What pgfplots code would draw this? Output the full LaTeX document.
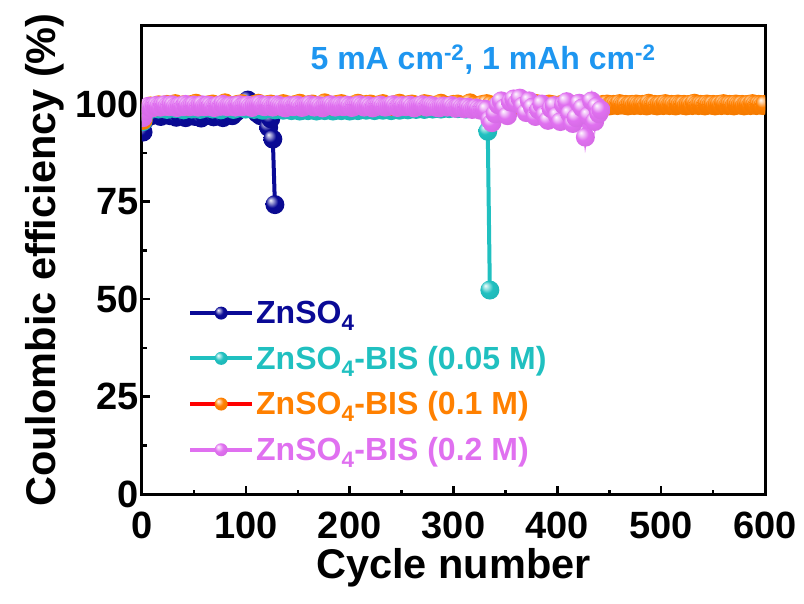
\documentclass[border=0pt]{standalone}
\usepackage{fontspec}
\setmainfont{Liberation Sans}
\usepackage{pgfplots}
\pgfplotsset{compat=1.18}
\definecolor{cNavy}{RGB}{10,10,150}
\definecolor{cCyan}{RGB}{32,192,192}
\definecolor{cOrange}{RGB}{255,128,0}
\definecolor{cViolet}{RGB}{224,112,240}
\definecolor{cAnno}{RGB}{30,150,240}
\makeatletter
\pgfdeclareradialshading[tikz@ball]{myball}{\pgfqpoint{-12bp}{12bp}}{%
 color(0bp)=(tikz@ball!5!white); color(7bp)=(tikz@ball!45!white); color(16bp)=(tikz@ball); color(40bp)=(tikz@ball!92!black); color(50bp)=(tikz@ball!85!black)}
\pgfdeclareplotmark{myball}{\pgfpathcircle{\pgfpointorigin}{\pgfplotmarksize}\pgfshadepath{myball}{0}\pgfusepath{}}
\tikzset{myballcolor/.code={\pgfutil@colorlet{tikz@ball}{#1}}}
\makeatother

\pgfplotstableread{
x y
1 92.8
3 96.0
6 97.3
9 97.0
12 97.8
15 97.4
18 96.8
21 97.2
24 97.6
27 97.0
30 97.3
33 96.6
36 97.5
39 97.1
42 96.5
45 97.2
48 97.6
51 96.8
54 97.0
57 96.4
60 97.3
63 97.7
66 97.0
69 96.7
72 97.4
75 97.0
78 96.5
81 97.2
84 97.5
87 97.0
90 97.8
93 98.4
96 99.0
99 100.0
102 101.0
105 99.8
108 98.5
111 97.6
114 97.0
117 96.8
120 97.3
122 94.0
124 96.2
126 91.0
128 74.2
}\dataA

\pgfplotstableread{
x y
1 95.5
4 97.8
8 98.8
12 99.1
16 98.7
20 99.0
24 98.6
28 99.2
32 98.8
36 99.0
40 98.5
44 99.1
48 98.7
52 99.0
56 98.6
60 98.9
64 99.2
68 98.7
72 99.0
76 98.5
80 98.9
84 99.1
88 98.6
92 98.9
96 99.2
100 98.7
104 99.0
108 98.6
112 98.9
116 98.4
120 98.8
124 99.0
128 98.5
132 98.8
136 98.4
140 98.7
144 98.3
148 98.6
152 98.2
156 98.5
160 98.3
164 98.6
168 98.2
172 98.5
176 98.3
180 98.6
184 98.2
188 98.5
192 98.3
196 98.6
200 98.2
204 98.5
208 98.3
212 98.6
216 98.4
220 98.7
224 98.3
228 98.6
232 98.4
236 98.7
240 98.3
244 98.6
248 98.4
252 98.8
256 98.5
260 98.8
264 98.6
268 98.9
272 98.6
276 98.9
280 98.7
284 99.0
288 98.7
292 99.0
296 98.8
300 99.1
304 98.8
308 99.0
312 98.7
316 99.1
320 98.8
324 99.0
328 98.7
331 98.4
333 93.0
335 52.3
}\dataB

\pgfplotstableread{
x y
1 95.8
4 98.6
8 99.5
12 99.2
16 99.8
20 99.4
24 99.9
28 99.6
32 100.1
36 99.5
40 99.8
44 99.3
48 99.9
52 100.2
56 99.6
60 99.4
64 99.8
68 100.0
72 99.5
76 99.7
80 100.3
84 99.6
88 99.4
92 99.9
96 100.1
100 99.7
104 99.5
108 99.9
112 100.2
116 99.6
120 99.8
124 100.0
128 99.4
132 99.7
136 100.1
140 99.8
144 99.5
148 99.9
152 100.2
156 99.6
160 99.8
164 100.0
168 99.5
172 99.7
176 100.3
180 99.8
184 99.4
188 99.9
192 100.1
196 99.7
200 99.5
204 99.8
208 100.2
212 99.6
216 99.9
220 100.0
224 99.5
228 99.8
232 100.1
236 99.7
240 99.4
244 99.9
248 100.2
252 99.6
256 99.8
260 100.0
264 99.7
268 99.5
272 100.1
276 99.9
280 99.6
284 99.8
288 100.2
292 99.7
296 99.5
300 99.9
304 100.0
308 99.6
312 99.8
316 100.3
320 99.7
324 99.5
328 99.9
332 100.1
336 99.8
340 99.6
344 100.0
348 99.7
352 99.9
356 100.2
360 99.6
364 99.8
368 100.0
372 99.5
376 99.9
380 100.1
384 99.7
388 99.6
392 100.0
396 99.8
400 99.5
404 99.9
408 100.2
412 99.7
416 99.8
420 100.0
424 99.6
428 99.9
432 100.1
436 99.7
440 99.5
444 99.9
446 99.7
448 100.0
450 99.5
452 99.6
454 99.9
456 99.8
458 99.6
460 100.1
462 99.8
464 99.7
466 99.9
468 99.5
470 99.8
472 99.9
474 99.6
476 100.0
478 99.8
480 99.6
482 99.9
484 99.8
486 99.5
488 100.2
490 99.8
492 99.7
494 99.9
496 99.5
498 99.8
500 99.9
502 99.6
504 100.1
506 99.8
508 99.6
510 99.9
512 99.8
514 99.5
516 100.0
518 99.8
520 99.7
522 99.9
524 99.5
526 99.8
528 99.9
530 99.6
532 100.2
534 99.8
536 99.6
538 99.9
540 99.8
542 99.5
544 100.0
546 99.8
548 99.7
550 99.9
552 99.5
554 99.8
556 99.9
558 99.6
560 100.1
562 99.8
564 99.6
566 99.9
568 99.8
570 99.5
572 100.0
574 99.8
576 99.7
578 99.9
580 99.5
582 99.8
584 99.9
586 99.6
588 100.1
590 99.8
592 99.6
594 99.9
596 99.8
598 99.6
600 99.9
}\dataC

\pgfplotstableread{
x y
1 96.5
3 98.2
6 99.4
8 99.1
10 99.0
12 99.5
14 99.6
16 99.3
18 99.2
20 99.7
22 99.8
24 99.4
26 99.3
28 99.8
30 99.7
32 99.2
34 99.1
36 99.5
38 99.6
40 99.3
42 99.9
44 99.6
46 99.3
48 99.5
50 99.7
52 99.4
54 99.2
56 99.6
58 99.8
60 99.3
62 99.4
64 99.7
66 99.6
68 99.2
70 99.1
72 99.5
74 99.7
76 99.4
78 99.9
80 99.6
82 99.3
84 99.5
86 99.6
88 99.4
90 99.2
92 99.7
94 99.8
96 99.3
98 99.4
100 99.6
102 99.7
104 99.3
106 99.1
108 99.5
110 99.6
112 99.8
114 99.9
116 99.5
118 99.3
120 99.6
122 99.7
124 99.4
126 99.2
128 99.5
130 99.8
132 99.6
134 99.4
136 99.2
138 99.0
140 99.4
142 99.6
144 99.5
146 99.3
148 99.6
150 99.7
152 99.4
154 99.1
156 99.3
158 99.5
160 99.7
162 99.8
164 99.4
166 99.2
168 99.5
170 99.6
172 99.3
174 99.0
176 99.3
178 99.5
180 99.7
182 99.8
184 99.5
186 99.2
188 99.4
190 99.6
192 99.5
194 99.3
196 99.5
198 99.7
200 99.4
202 99.1
204 99.3
206 99.5
208 99.7
210 99.8
212 99.5
214 99.2
216 99.4
218 99.6
220 99.3
222 99.0
224 99.2
226 99.4
228 99.6
230 99.7
232 99.4
234 99.2
236 99.3
238 99.5
240 99.7
242 99.8
244 99.4
246 99.1
248 99.3
250 99.6
252 99.5
254 99.3
256 99.5
258 99.7
260 99.3
262 99.0
264 99.2
266 99.5
268 99.7
270 99.8
272 99.5
274 99.2
276 99.4
278 99.6
280 99.5
282 99.3
284 99.1
286 99.0
288 99.2
290 99.5
292 99.4
294 99.2
296 99.4
298 99.6
300 99.2
302 98.9
304 99.1
306 99.3
308 99.0
310 98.8
312 99.0
314 99.2
316 98.9
318 98.6
320 98.8
322 99.0
324 98.7
326 98.4
328 98.6
330 98.7
332 98.5
335 96.0
337 95.2
340 97.5
343 99.8
346 100.8
349 99.0
352 97.0
355 100.5
358 101.3
361 100.2
364 101.5
367 99.5
370 97.8
373 100.8
376 99.2
379 96.8
382 98.5
385 100.0
388 97.2
391 95.8
394 98.8
397 99.6
400 97.0
403 95.5
406 99.8
409 100.6
412 97.5
415 95.0
418 96.5
421 100.2
424 99.0
427 91.5
430 97.0
433 100.8
436 95.5
438 99.4
440 97.5
442 98.5
}\dataD

\begin{document}
\begin{tikzpicture}
\begin{axis}[
  scale only axis, width=623pt, height=468pt,
  xmin=0, xmax=600, ymin=0, ymax=120,
  xtick={0,100,...,600}, ytick={0,25,50,75,100},
  minor x tick num=1, minor y tick num=1,
  tick align=inside, xtick pos=bottom, ytick pos=left,
  major tick length=8pt, minor tick length=4.5pt,
  axis line style={line width=3pt},
  every tick/.append style={line width=2.5pt, black},
  /pgf/number format/assume math mode=true,
  tick label style={font=\fontsize{38}{44}\selectfont\bfseries},
  xticklabel style={anchor=base, yshift=-44pt},
  xlabel={Cycle number},
  ylabel={Coulombic efficiency (\%)},
  label style={font=\fontsize{41.5}{48}\selectfont\bfseries},
  xlabel style={at={(axis description cs:0.5,-0.1795)}, anchor=base},
  ylabel style={at={(axis description cs:-0.1396,0.5)}, anchor=base},
  clip marker paths=true,
  legend style={at={(axis description cs:0.0738,0.4167)}, anchor=north west,
    draw=none, fill=none, inner sep=0pt,
    font=\fontsize{32}{38}\selectfont\bfseries, row sep=17pt,
    /tikz/every odd column/.append style={column sep=0pt}},
  legend cell align=left,
  legend image code/.code={\draw[mark repeat=2, mark phase=2, #1, mark size=6.5pt] plot coordinates {(0pt,0pt) (31pt,0pt) (62pt,0pt)};},
]
\addplot[color=cNavy, line width=4pt, mark=myball, mark size=9.5pt, mark options={myballcolor=cNavy}] table {\dataA};
\addlegendentry{\textcolor{cNavy}{ZnSO\textsubscript{4}}}
\addplot[color=cCyan, line width=4pt, mark=myball, mark size=9.5pt, mark options={myballcolor=cCyan}] table {\dataB};
\addlegendentry{\textcolor{cCyan}{ZnSO\textsubscript{4}-BIS (0.05 M)}}
\addplot[color=red, line width=4pt, mark=myball, mark size=9.5pt, mark options={myballcolor=cOrange}] table {\dataC};
\addlegendentry{\textcolor{cOrange}{ZnSO\textsubscript{4}-BIS (0.1 M)}}
\addplot[color=cViolet, line width=4pt, mark=myball, mark size=9.5pt, mark options={myballcolor=cViolet}] table {\dataD};
\addlegendentry{\textcolor{cViolet}{ZnSO\textsubscript{4}-BIS (0.2 M)}}
\node[font=\fontsize{32}{38}\selectfont\bfseries, text=cAnno] at (axis cs:328.5,111.3) {5 mA cm\textsuperscript{-2}, 1 mAh cm\textsuperscript{-2}};
\end{axis}
\path ([shift={(-142pt,-109pt)}]current axis.south west) rectangle ([shift={(39pt,26pt)}]current axis.north east);
\end{tikzpicture}
\end{document}
